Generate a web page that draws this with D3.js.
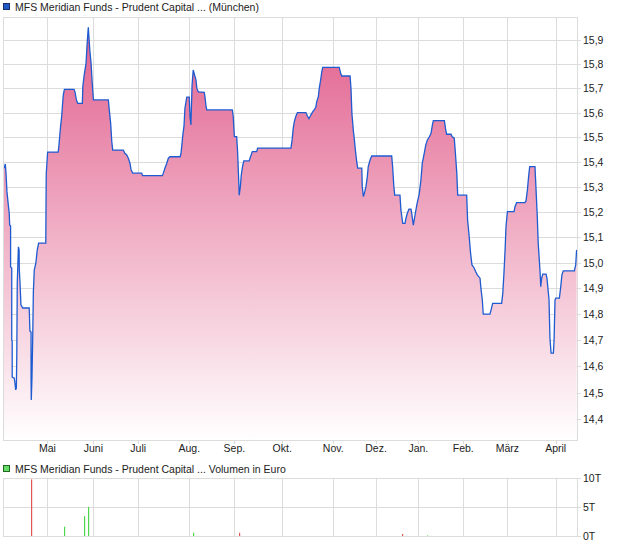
<!DOCTYPE html>
<html><head><meta charset="utf-8">
<script src="https://cdn.jsdelivr.net/npm/d3@7"></script>
<style>body{margin:0;background:#fff} text{font-family:"Liberation Sans",Arial,sans-serif;fill:#222}</style>
</head><body><svg id="c" width="620" height="546"></svg>
<script>
// trading-day index and price (EUR)
const dayIdx = [0.1,0.7,1.0,1.3,1.7,2.3,2.7,2.9,3.3,3.3,3.8,3.8,4.0,4.0,4.9,5.2,5.5,5.8,6.0,6.2,6.7,7.0,7.1,7.4,7.8,8.6,11.4,11.7,12.2,12.2,12.3,12.6,12.9,13.2,13.6,14.3,14.9,15.5,18.6,18.8,19.4,24.0,24.3,24.7,25.1,25.5,25.8,26.2,26.7,30.9,31.3,31.9,32.5,34.5,34.7,35.3,36.1,36.7,37.1,37.4,37.8,38.3,38.8,39.3,45.8,46.2,46.8,47.3,47.7,52.3,53.0,53.8,54.5,55.2,55.7,56.4,60.3,60.7,69.3,69.7,70.4,71.2,71.9,72.6,77.0,77.4,77.7,78.1,78.7,79.1,79.9,81.0,81.3,81.7,82.2,82.7,83.3,83.9,84.3,84.9,87.5,87.8,88.3,88.6,99.7,100.1,100.6,101.6,102.0,102.5,102.7,103.2,103.6,104.2,104.7,107.0,107.4,108.0,108.4,110.3,110.7,125.2,125.7,126.2,126.7,127.3,128.0,131.7,132.3,133.0,133.9,134.7,135.3,136.0,136.4,137.1,137.5,138.1,138.6,139.0,146.2,146.8,147.3,150.9,151.3,151.7,152.3,152.7,153.2,153.8,154.2,156.0,156.2,156.7,157.3,157.8,158.4,158.8,159.6,160.3,169.0,169.4,169.9,170.3,172.6,173.0,173.8,174.8,175.2,175.8,176.5,177.4,177.8,178.4,179.0,179.9,181.0,181.7,182.3,183.0,183.8,184.5,185.3,186.1,186.7,187.1,191.9,192.5,192.9,194.8,195.3,196.2,196.7,197.3,197.7,201.6,202.0,202.7,203.3,203.9,204.8,205.5,206.2,207.4,207.8,208.4,208.8,211.7,212.2,212.9,216.8,217.3,217.8,218.3,218.7,219.3,222.2,222.6,223.3,226.9,227.4,228.0,228.6,229.0,231.3,231.7,232.3,232.7,233.5,233.8,234.2,234.7,236.1,236.5,237.0,237.4,237.8,238.3,239.3,239.6,240.0,240.4,241.9,242.5,243.0,243.6,248.4,249.0,249.4];
const prices = [15.373,15.382,15.393,15.357,15.284,15.229,15.197,15.149,15.145,14.984,14.980,14.700,14.697,14.559,14.555,14.536,14.510,14.517,14.643,14.921,15.063,15.051,14.972,14.921,14.836,14.824,14.824,14.735,14.731,14.559,14.472,14.559,14.700,14.886,14.972,15.000,15.051,15.078,15.078,15.353,15.441,15.441,15.466,15.510,15.551,15.583,15.624,15.673,15.696,15.696,15.686,15.653,15.639,15.639,15.707,15.755,15.803,15.903,15.953,15.907,15.851,15.803,15.721,15.653,15.653,15.612,15.558,15.483,15.449,15.449,15.436,15.429,15.416,15.396,15.369,15.356,15.356,15.346,15.346,15.356,15.376,15.396,15.416,15.422,15.422,15.436,15.463,15.503,15.547,15.619,15.664,15.664,15.585,15.551,15.714,15.776,15.755,15.735,15.700,15.686,15.684,15.666,15.625,15.612,15.612,15.585,15.503,15.503,15.442,15.322,15.268,15.302,15.349,15.385,15.405,15.405,15.416,15.432,15.443,15.443,15.457,15.457,15.490,15.538,15.565,15.585,15.601,15.601,15.588,15.576,15.592,15.605,15.612,15.623,15.646,15.666,15.700,15.734,15.768,15.787,15.787,15.762,15.751,15.751,15.700,15.598,15.530,15.497,15.449,15.402,15.376,15.376,15.302,15.262,15.282,15.302,15.342,15.382,15.409,15.425,15.425,15.382,15.308,15.268,15.268,15.209,15.156,15.156,15.176,15.196,15.212,15.212,15.189,15.149,15.181,15.228,15.275,15.328,15.396,15.429,15.469,15.490,15.501,15.517,15.551,15.568,15.568,15.530,15.513,15.513,15.503,15.497,15.436,15.356,15.268,15.268,15.169,15.103,15.037,14.992,14.981,14.966,14.953,14.940,14.900,14.855,14.800,14.800,14.816,14.842,14.842,14.881,14.959,15.051,15.143,15.202,15.202,15.222,15.238,15.238,15.245,15.289,15.349,15.382,15.382,15.302,15.182,15.077,14.966,14.907,14.940,14.956,14.956,14.940,14.894,14.855,14.707,14.650,14.650,14.700,14.855,14.862,14.862,14.907,14.953,14.969,14.969,14.992,15.051];

const monthLabels = ["Mai","Juni","Juli","Aug.","Sep.","Okt.","Nov.","Dez.","Jan.","Feb.","März","April"];
const monthIdx = [19.3,39.3,58.8,81.0,100.6,121.4,143.6,162.2,180.6,200.1,219.3,240.3];
const priceTicks = [14.4,14.5,14.6,14.7,14.8,14.9,15.0,15.1,15.2,15.3,15.4,15.5,15.6,15.7,15.8,15.9];

const volIdx = [12.3,26.7,35.3,37.1,82.7,102.7,173.6,184.2];
const volValues = [9.7,1.6,3.4,5.0,0.55,0.55,0.35,0.1]; // in T (thousand EUR)
const volUp = [false,true,true,true,true,false,false,true];
const volTicks = [0,5,10];

const titleMain = "MFS Meridian Funds - Prudent Capital ... (München)";
const titleVol = "MFS Meridian Funds - Prudent Capital ... Volumen in Euro";

const svg = d3.select("#c");
const L = 3, R = 578, T = 17, B = 441;
const VT = 477.7, VB = 536;
const fmt = d => d.toFixed(1).replace(".", ",");
const FS = "10.5px";
const grid = "#dcdcdc";

const x = d3.scaleLinear().domain([0,250]).range([L,R]);
const y = d3.scaleLog().domain([14.4,15.9]).range([419,40]);
const yv = d3.scaleLinear().domain([0,10]).range([VB,VT]);

const defs = svg.append("defs");
const g = defs.append("linearGradient").attr("id","fill").attr("gradientUnits","userSpaceOnUse")
  .attr("x1",0).attr("x2",0).attr("y1",T).attr("y2",B);
g.append("stop").attr("offset","0%").attr("stop-color","#e15d8b");
g.append("stop").attr("offset","100%").attr("stop-color","#ffffff");
defs.append("clipPath").attr("id","clip").append("rect").attr("x",L).attr("y",T).attr("width",R-L).attr("height",B-T);

// legend titles
svg.append("rect").attr("x",3.5).attr("y",3.5).attr("width",6).attr("height",6).attr("fill","#1f5bc6").attr("stroke","#1a2f66").attr("stroke-width",1);
svg.append("text").attr("x",15).attr("y",10.5).style("font-size",FS).text(titleMain);
svg.append("rect").attr("x",3.5).attr("y",465.5).attr("width",6).attr("height",6).attr("fill","#66dd66").attr("stroke","#226622").attr("stroke-width",1);
svg.append("text").attr("x",15).attr("y",472.5).style("font-size",FS).text(titleVol);

// main grid
const main = svg.append("g");
main.selectAll(".hg").data(priceTicks).enter().append("line")
  .attr("x1",L).attr("x2",R+3).attr("y1",d=>Math.round(y(d))+0.5).attr("y2",d=>Math.round(y(d))+0.5)
  .attr("stroke",grid);
main.selectAll(".vg").data(monthIdx).enter().append("line")
  .attr("x1",d=>Math.round(x(d))+0.5).attr("x2",d=>Math.round(x(d))+0.5).attr("y1",T).attr("y2",B+3)
  .attr("stroke",grid);

// area + line
const area = d3.area().x((d,i)=>x(dayIdx[i])).y0(B).y1(d=>y(d));
const line = d3.line().x((d,i)=>x(dayIdx[i])).y(d=>y(d));
const cg = main.append("g").attr("clip-path","url(#clip)");
cg.append("path").attr("d",area(prices)).attr("fill","url(#fill)");
cg.append("path").attr("d",line(prices)).attr("fill","none").attr("stroke","#1f5bd0").attr("stroke-width",1.3).attr("stroke-linejoin","miter");

// frame
main.append("rect").attr("x",L+0.5).attr("y",T+0.5).attr("width",R-L-1).attr("height",B-T-1).attr("fill","none").attr("stroke",grid);

// y labels
main.selectAll(".yl").data(priceTicks).enter().append("text")
  .attr("x",583).attr("y",d=>y(d)+4).style("font-size",FS).text(fmt);
// x labels
main.selectAll(".xl").data(monthIdx).enter().append("text")
  .attr("x",d=>x(d)).attr("y",452).attr("text-anchor","middle").style("font-size",FS)
  .text((d,i)=>monthLabels[i]);

// volume chart
const vol = svg.append("g");
vol.selectAll(".vh").data(volTicks).enter().append("line")
  .attr("x1",L).attr("x2",R+3).attr("y1",d=>Math.round(yv(d))+0.5).attr("y2",d=>Math.round(yv(d))+0.5).attr("stroke",grid);
vol.selectAll(".vv").data(monthIdx).enter().append("line")
  .attr("x1",d=>Math.round(x(d))+0.5).attr("x2",d=>Math.round(x(d))+0.5).attr("y1",VT).attr("y2",VB).attr("stroke",grid);
vol.append("rect").attr("x",L+0.5).attr("y",Math.round(VT)+0.5).attr("width",R-L-1).attr("height",Math.round(VB)-Math.round(VT)).attr("fill","none").attr("stroke",grid);
vol.selectAll(".vb").data(volValues).enter().append("rect")
  .attr("x",(d,i)=>Math.round(x(volIdx[i]))).attr("width",1.2)
  .attr("y",d=>yv(d)).attr("height",d=>VB-yv(d))
  .attr("fill",(d,i)=>volUp[i]?"#4fd64f":"#e05555");
vol.selectAll(".vl").data(volTicks).enter().append("text")
  .attr("x",583).attr("y",d=>yv(d)+4).style("font-size",FS).text(d=>d+"T");
</script></body></html>
